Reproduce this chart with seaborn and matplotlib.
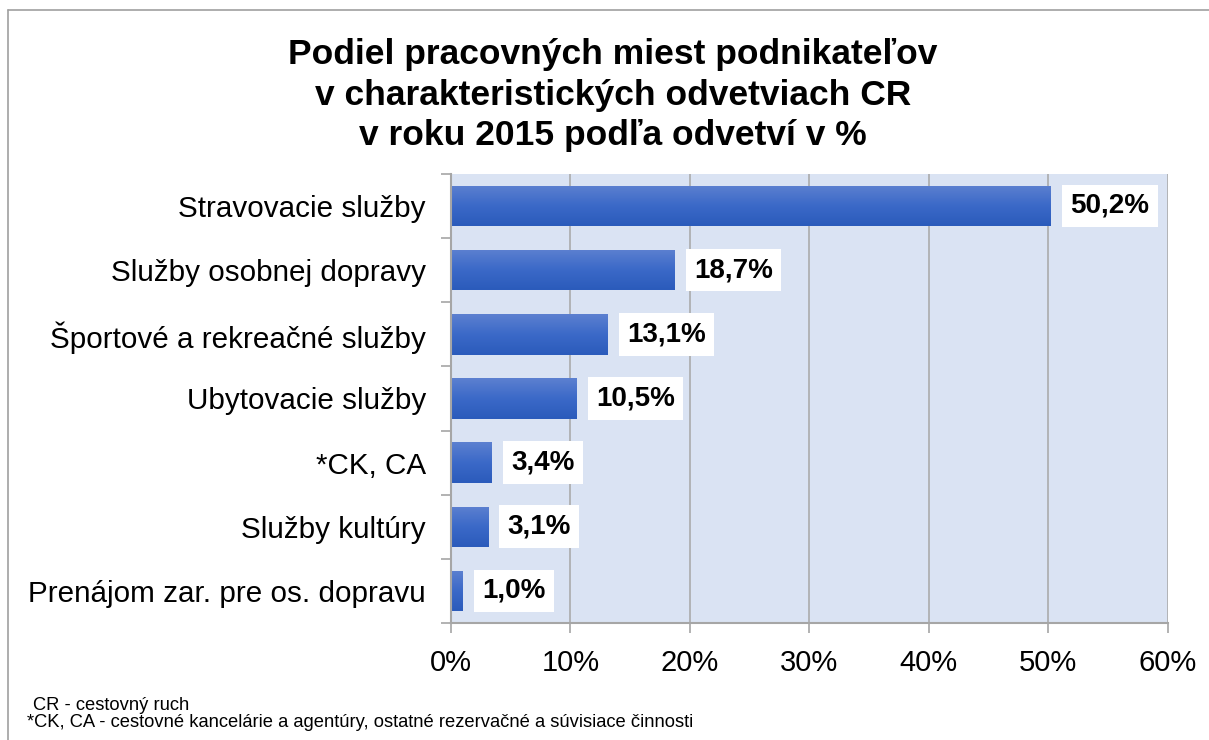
import numpy as np
import pandas as pd
import seaborn as sns
import matplotlib.pyplot as plt
from matplotlib.lines import Line2D
from matplotlib.colors import LinearSegmentedColormap
from matplotlib.ticker import FuncFormatter

# data
categories = ["Stravovacie služby", "Služby osobnej dopravy", "Športové a rekreačné služby",
              "Ubytovacie služby", "*CK, CA", "Služby kultúry", "Prenájom zar. pre os. dopravu"]
shares = [50.2, 18.7, 13.1, 10.5, 3.4, 3.1, 1.0]
value_labels = ["50,2%", "18,7%", "13,1%", "10,5%", "3,4%", "3,1%", "1,0%"]
x_ticks = [0, 10, 20, 30, 40, 50, 60]

title = ("Podiel pracovných miest podnikateľov\n"
         "v charakteristických odvetviach CR\n"
         "v roku 2015 podľa odvetví v %")
footnote_1 = "CR - cestovný ruch"
footnote_2 = "*CK, CA - cestovné kancelárie a agentúry, ostatné rezervačné a súvisiace činnosti"

df = pd.DataFrame({"odvetvie": categories, "podiel": shares})

sns.set_theme(style="white")
plt.rcParams['font.family'] = ['Liberation Sans', 'DejaVu Sans']

fig = plt.figure(figsize=(12.09, 7.40), dpi=100)
ax = fig.add_axes([0.373, 0.158, 0.593, 0.607])
ax.set_facecolor("#dae3f3")

sns.barplot(data=df, y="odvetvie", x="podiel", orient="h", color="#3a68c6",
            width=0.63, ax=ax, zorder=3)

# vertical gradient on every bar (light top, darker bottom)
grad_cmap = LinearSegmentedColormap.from_list("bar", ["#5c80d0", "#3b69c8", "#2b5bbb"])
grad = np.linspace(0, 1, 100).reshape(-1, 1)
for p in ax.patches:
    x0, y0 = p.get_x(), p.get_y()
    w, h = p.get_width(), p.get_height()
    p.set_edgecolor("none")
    im = ax.imshow(grad, cmap=grad_cmap, aspect="auto", origin="upper",
                   extent=[x0, x0 + w, y0 + h, y0], zorder=4)
    im.set_clip_path(p)

ax.set_xlim(0, 60)
ax.set_ylim(len(categories) - 0.5, -0.5)
ax.set_xticks(x_ticks)
ax.xaxis.set_major_formatter(FuncFormatter(lambda v, pos: f"{v:.0f}%"))
ax.grid(axis="x", color="#a6a6a6", linewidth=1.1, zorder=1)
ax.set_axisbelow(True)

for s in ["top", "right"]:
    ax.spines[s].set_visible(False)
for s in ["left", "bottom"]:
    ax.spines[s].set_color("#a6a6a6")
    ax.spines[s].set_linewidth(1.5)
    ax.spines[s].set_zorder(5)

# category ticks sit between the bars, labels in the middle without a tick
ax.set_yticks(np.arange(-0.5, len(categories), 1), minor=True)
ax.tick_params(axis="y", which="major", left=False, labelsize=21.3, pad=12, labelcolor="black")
ax.tick_params(axis="y", which="minor", left=True, length=7, width=1.2, color="#a6a6a6")
ax.tick_params(axis="x", bottom=True, length=7, width=1.2, color="#a6a6a6",
               labelsize=21, pad=12, labelcolor="black")
ax.set_xlabel("")
ax.set_ylabel("")

# value labels in white boxes
for i, (v, lab) in enumerate(zip(shares, value_labels)):
    ax.annotate(lab, xy=(v, i), xytext=(14, 0), textcoords="offset points",
                ha="left", va="center", fontsize=20, fontweight="bold", color="black",
                bbox=dict(boxstyle="square,pad=0.3", fc="white", ec="none"), zorder=6)

fig.text(0.507, 0.948, title, ha="center", va="top", fontsize=25.5, fontweight="bold",
         color="black", linespacing=1.27)

fig.text(0.027, 0.046, footnote_1, ha="left", va="center", fontsize=13.2, color="black")
fig.text(0.022, 0.023, footnote_2, ha="left", va="center", fontsize=13.2, color="black")

# chart frame (top and left edges only visible)
fig.add_artist(Line2D([0.007, 1.0], [0.986, 0.986], color="#a0a0a0", linewidth=1.2,
                      transform=fig.transFigure))
fig.add_artist(Line2D([0.007, 0.007], [0.0, 0.986], color="#a0a0a0", linewidth=1.2,
                      transform=fig.transFigure))

fig.savefig("out.png", dpi=100, facecolor="white")
